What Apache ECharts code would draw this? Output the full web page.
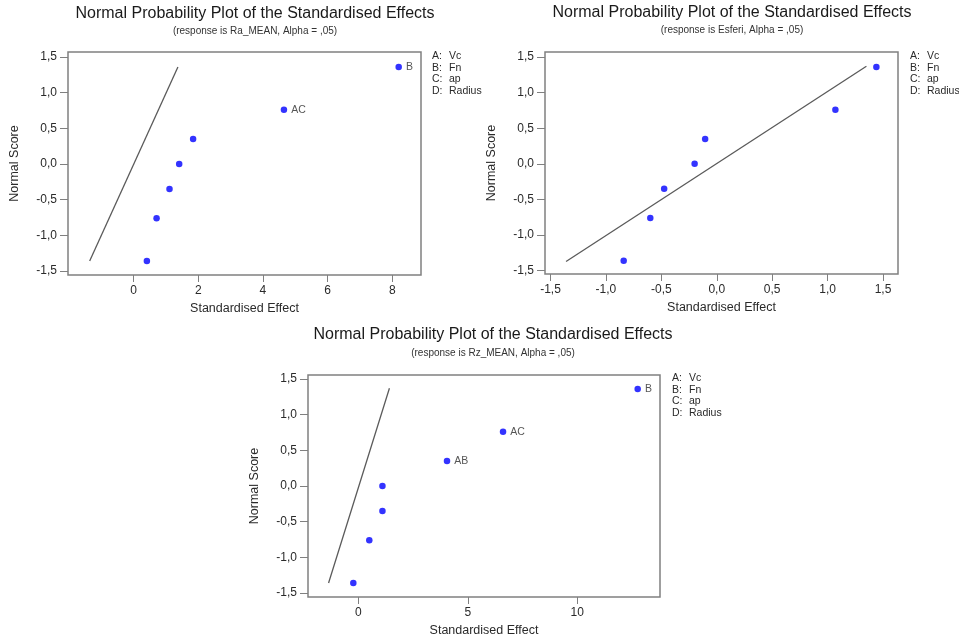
<!DOCTYPE html>
<html>
<head>
<meta charset="utf-8">
<script src="https://cdn.jsdelivr.net/npm/echarts@6/dist/echarts.min.js"></script>
<style>
  html, body { margin: 0; padding: 0; background: #fff; }
  #chart { width: 959px; height: 641px; }
</style>
</head>
<body>
<div id="chart"></div>
<script>
// 数据
const normalScores = [-1.36, -0.76, -0.35, 0, 0.35, 0.76, 1.36];

const raEffects = [0.41, 0.71, 1.11, 1.41, 1.84, 4.65, 8.2];
const raLabels = ['', '', '', '', '', 'AC', 'B'];
const raLine = [[-1.36, -1.36], [1.37, 1.36]];

const esferiEffects = [-0.84, -0.60, -0.475, -0.20, -0.105, 1.07, 1.44];
const esferiLabels = ['', '', '', '', '', '', ''];
const esferiLine = [[-1.36, -1.37], [1.35, 1.37]];

const rzEffects = [-0.23, 0.50, 1.10, 1.10, 4.05, 6.61, 12.76];
const rzLabels = ['', '', '', '', 'AB', 'AC', 'B'];
const rzLine = [[-1.36, -1.36], [1.42, 1.37]];

const yTicks = [-1.5, -1.0, -0.5, 0, 0.5, 1.0, 1.5];
const raTicks = [0, 2, 4, 6, 8];
const esferiTicks = [-1.5, -1.0, -0.5, 0, 0.5, 1.0, 1.5];
const rzTicks = [0, 5, 10];

const factorKeys = ['A:', 'B:', 'C:', 'D:'];
const factorNames = ['Vc', 'Fn', 'ap', 'Radius'];

const titleText = 'Normal Probability Plot of the Standardised Effects';
const subTitles = [
  '(response is Ra_MEAN, Alpha = ,05)',
  '(response is Esferi, Alpha = ,05)',
  '(response is Rz_MEAN, Alpha = ,05)'
];

// 样式常量
const FONT = '"Liberation Sans", Arial, sans-serif';
const TEXT_COLOR = '#2a2a2a';
const BOX_COLOR = '#808080';
const LINE_COLOR = '#5a5a5a';
const POINT_COLOR = '#0000ff';

const commaFmt = (digits) => (v) => v.toFixed(digits).replace('.', ',');

// 每个子图的布局
const panels = [
  { grid: { left: 68, top: 52, width: 353, height: 223 },
    xMin: -2.03, xMax: 8.89, yMin: -1.556, yMax: 1.57,
    xTicks: raTicks, xDigits: 0, effects: raEffects, labels: raLabels, line: raLine,
    titleX: 255, titleY: 14, subY: 31, legendX: 432, legendY: 56 },
  { grid: { left: 545, top: 52, width: 353, height: 222 },
    xMin: -1.55, xMax: 1.635, yMin: -1.546, yMax: 1.57,
    xTicks: esferiTicks, xDigits: 1, effects: esferiEffects, labels: esferiLabels, line: esferiLine,
    titleX: 732, titleY: 13, subY: 30, legendX: 910, legendY: 56 },
  { grid: { left: 308, top: 375, width: 352, height: 222 },
    xMin: -2.3, xMax: 13.78, yMin: -1.556, yMax: 1.556,
    xTicks: rzTicks, xDigits: 0, effects: rzEffects, labels: rzLabels, line: rzLine,
    titleX: 493, titleY: 335, subY: 353, legendX: 672, legendY: 378 }
];

const grids = [];
const xAxes = [];
const yAxes = [];
const series = [];
const graphics = [];

panels.forEach((p, i) => {
  grids.push(Object.assign({
    show: true,
    borderColor: BOX_COLOR,
    borderWidth: 1.5,
    backgroundColor: '#fff'
  }, p.grid));

  xAxes.push({
    type: 'value',
    gridIndex: i,
    min: p.xMin,
    max: p.xMax,
    name: 'Standardised Effect',
    nameLocation: 'middle',
    nameGap: 27,
    nameTextStyle: { color: TEXT_COLOR, fontSize: 12.5, fontFamily: FONT },
    axisLine: { show: false, onZero: false },
    axisTick: { show: true, inside: false, length: 7, customValues: p.xTicks,
      lineStyle: { color: BOX_COLOR } },
    axisLabel: { color: TEXT_COLOR, fontSize: 12, fontFamily: FONT, margin: 10,
      customValues: p.xTicks, formatter: commaFmt(p.xDigits) },
    splitLine: { show: false }
  });

  yAxes.push({
    type: 'value',
    gridIndex: i,
    min: p.yMin,
    max: p.yMax,
    name: 'Normal Score',
    nameLocation: 'middle',
    nameRotate: 90,
    nameGap: 47,
    nameTextStyle: { color: TEXT_COLOR, fontSize: 12.5, fontFamily: FONT },
    axisLine: { show: false, onZero: false },
    axisTick: { show: true, inside: false, length: 8, customValues: yTicks,
      lineStyle: { color: BOX_COLOR } },
    axisLabel: { color: TEXT_COLOR, fontSize: 12, fontFamily: FONT, margin: 11,
      customValues: yTicks, formatter: commaFmt(1) },
    splitLine: { show: false }
  });

  // 参考直线
  series.push({
    type: 'line',
    xAxisIndex: i,
    yAxisIndex: i,
    data: p.line,
    symbol: 'none',
    silent: true,
    lineStyle: { color: LINE_COLOR, width: 1.3 }
  });

  // 效应点
  series.push({
    type: 'scatter',
    xAxisIndex: i,
    yAxisIndex: i,
    symbol: 'circle',
    symbolSize: 6.5,
    itemStyle: { color: POINT_COLOR },
    data: p.effects.map((x, k) => ({
      value: [x, normalScores[k]],
      label: {
        show: p.labels[k] !== '',
        position: 'right',
        distance: 4,
        formatter: p.labels[k],
        color: TEXT_COLOR,
        fontSize: 10.5,
        fontFamily: FONT
      }
    }))
  });

  // 标题
  graphics.push({
    type: 'text', x: p.titleX, y: p.titleY,
    style: { text: titleText, fill: '#1a1a1a', font: '16px ' + FONT,
      align: 'center', textAlign: 'center', verticalAlign: 'middle', textVerticalAlign: 'middle' }
  });
  graphics.push({
    type: 'text', x: p.titleX, y: p.subY,
    style: { text: subTitles[i], fill: '#333', font: '10px ' + FONT,
      align: 'center', textAlign: 'center', verticalAlign: 'middle', textVerticalAlign: 'middle' }
  });

  // 因子说明
  factorKeys.forEach((key, k) => {
    graphics.push({
      type: 'text', x: p.legendX, y: p.legendY + k * 11.7,
      style: { text: key, fill: TEXT_COLOR, font: '10.5px ' + FONT,
        align: 'left', textAlign: 'left', verticalAlign: 'middle', textVerticalAlign: 'middle' }
    });
    graphics.push({
      type: 'text', x: p.legendX + 17, y: p.legendY + k * 11.7,
      style: { text: factorNames[k], fill: TEXT_COLOR, font: '10.5px ' + FONT,
        align: 'left', textAlign: 'left', verticalAlign: 'middle', textVerticalAlign: 'middle' }
    });
  });
});

const chart = echarts.init(document.getElementById('chart'));
chart.setOption({
  backgroundColor: '#fff',
  animation: false,
  grid: grids,
  xAxis: xAxes,
  yAxis: yAxes,
  series: series,
  graphic: graphics
});
</script>
</body>
</html>
